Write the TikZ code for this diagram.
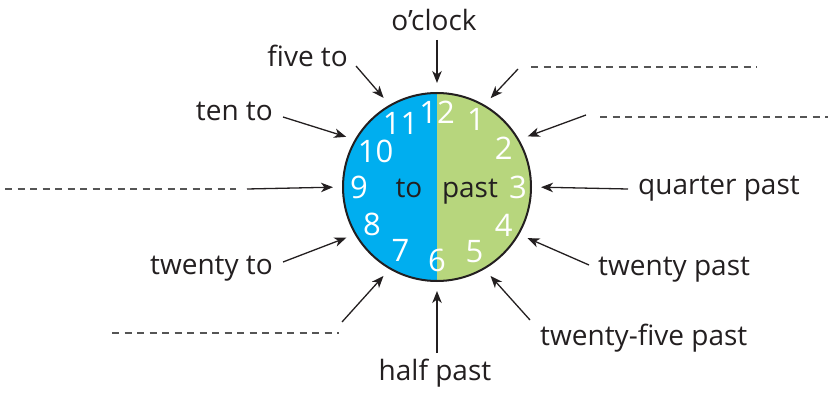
\documentclass[tikz,border=0pt]{standalone}
\usepackage{fontspec}
\setmainfont{Open Sans}
\usetikzlibrary{arrows.meta}

\definecolor{toblue}{RGB}{0,174,239}
\definecolor{pastgreen}{RGB}{183,214,125}
\definecolor{ink}{RGB}{35,31,32}
\definecolor{blankgrey}{RGB}{85,85,85}

\begin{document}
\begin{tikzpicture}[x=1pt,y=-1pt]
	\tikzstyle{label} = [text=ink, inner sep=0pt, font=\fontsize{28}{28}\selectfont]
	\tikzstyle{digit} = [text=white, inner sep=0pt, font=\fontsize{31}{31}\selectfont]
	\tikzstyle{blank} = [draw=blankgrey, line width=1.1pt, dash pattern=on 7pt off 5.5pt]
	\tikzset{edge/.style = {draw=ink, line width=1.3pt, -{Stealth[length=12pt,width=9.5pt,inset=3.5pt]}, shorten >=9pt}}
	
	\useasboundingbox (0,0) rectangle (828,393);
	
	% clock face
	\node[circle, draw=ink, line width=2pt, minimum size=188pt, inner sep=0pt,
	      path picture={
	        \fill[toblue] (path picture bounding box.north west) rectangle (path picture bounding box.south);
	        \fill[pastgreen] (path picture bounding box.north) rectangle (path picture bounding box.south east);
	      }](clock) at (437,187) {};
	\foreach \h/\r in {1/78,2/77,3/81,4/77,5/75,6/73,7/73,8/75,9/78,10/71,11/73,12/75}
		\node[digit](hour\h) at ([shift={({30*\h-90}:\r)}]clock.center) {\h};
	\node[label, anchor=base](to) at (409,197) {to};
	\node[label, anchor=base](past) at (470,197) {past};
	
	% labels
	\node[label, anchor=base](oclock) at (434,31) {o’clock};
	\node[label, anchor=base east](fiveto) at (348,67) {five to};
	\node[label, anchor=base east](tento) at (273,121) {ten to};
	\node[label, anchor=base east](twentyto) at (273,274) {twenty to};
	\node[label, anchor=base west](quarterpast) at (638,195) {quarter past};
	\node[label, anchor=base west](twentypast) at (598,275) {twenty past};
	\node[label, anchor=base west](twentyfivepast) at (540,345) {twenty-five past};
	\node[label, anchor=base](halfpast) at (435,380) {half past};
	
	% blank lines to fill in
	\draw[blank] (531,67) -- (757,67);
	\draw[blank] (600,117) -- (828,117);
	\draw[blank] (5,189) -- (236,189);
	\draw[blank] (112,333) -- (339,333);
	
	% arrow tails
	\coordinate (tail12) at (437,40);
	\coordinate (tail1) at (518,69);
	\coordinate (tail2) at (586,115);
	\coordinate (tail3) at (628,189);
	\coordinate (tail4) at (589,265);
	\coordinate (tail5) at (530,320);
	\coordinate (tail6) at (437,353);
	\coordinate (tail7) at (342,322);
	\coordinate (tail8) at (283,262);
	\coordinate (tail9) at (247,189);
	\coordinate (tail10) at (283,117);
	\coordinate (tail11) at (356,66);
	
	\draw[edge](tail12) to (clock.90);
	\draw[edge](tail1) to (clock.60);
	\draw[edge](tail2) to (clock.30);
	\draw[edge](tail3) to (clock.0);
	\draw[edge](tail4) to (clock.330);
	\draw[edge](tail5) to (clock.300);
	\draw[edge](tail6) to (clock.270);
	\draw[edge](tail7) to (clock.240);
	\draw[edge](tail8) to (clock.210);
	\draw[edge](tail9) to (clock.180);
	\draw[edge](tail10) to (clock.150);
	\draw[edge](tail11) to (clock.120);
	
\end{tikzpicture}
\end{document}
